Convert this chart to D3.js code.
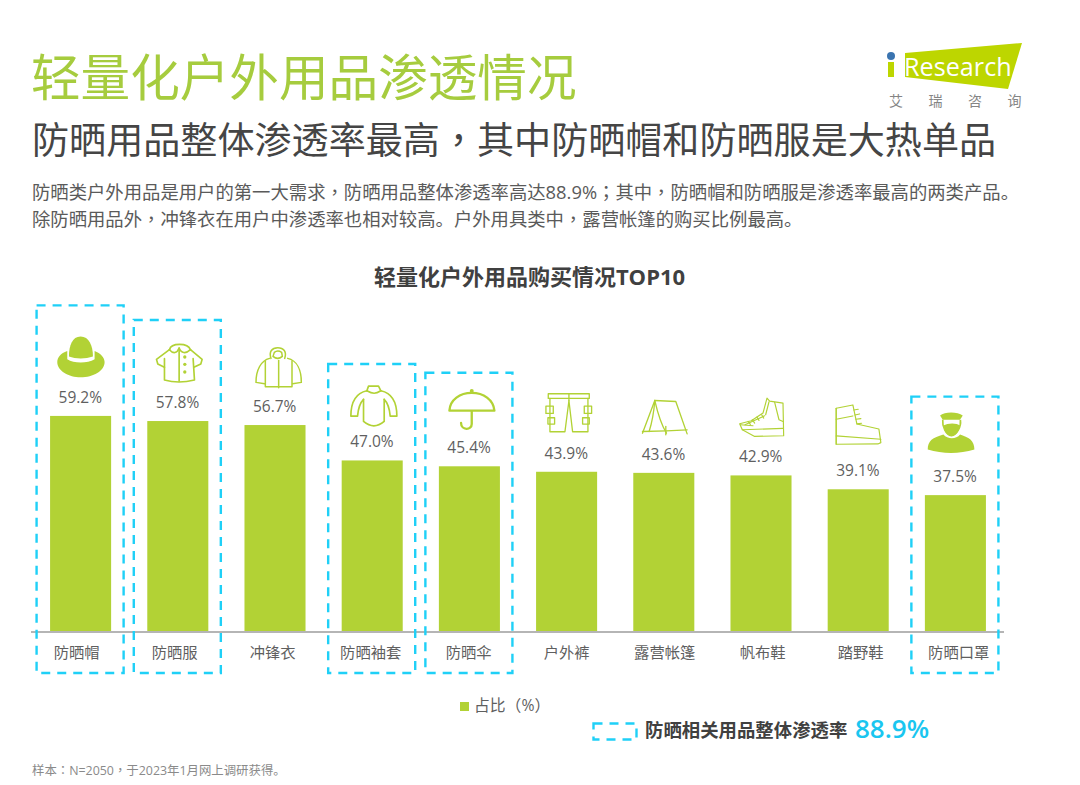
<!DOCTYPE html>
<html><head><meta charset="utf-8">
<script src="https://cdn.jsdelivr.net/npm/d3@7"></script>
<style>
html,body{margin:0;padding:0;background:#fff}
svg{display:block}
text{font-family:"Open Sans","Noto Sans CJK SC",sans-serif}
</style></head><body>
<svg id="c" width="1080" height="785"></svg>
<script>
const categories = ["防晒帽","防晒服","冲锋衣","防晒袖套","防晒伞","户外裤","露营帐篷","帆布鞋","踏野鞋","防晒口罩"];
const values = [59.2,57.8,56.7,47.0,45.4,43.9,43.6,42.9,39.1,37.5];
const highlighted = ["防晒帽","防晒服","防晒袖套","防晒伞","防晒口罩"];
const titleText = "轻量化户外用品渗透情况";
const subtitleText = "防晒用品整体渗透率最高，其中防晒帽和防晒服是大热单品";
const bodyLines = ["防晒类户外用品是用户的第一大需求，防晒用品整体渗透率高达88.9%；其中，防晒帽和防晒服是渗透率最高的两类产品。","除防晒用品外，冲锋衣在用户中渗透率也相对较高。户外用具类中，露营帐篷的购买比例最高。"];
const chartTitle = "轻量化户外用品购买情况TOP10";
const legendLabel = "占比（%）";
const overallLabel = "防晒相关用品整体渗透率";
const overallValue = "88.9%";
const footnote = "样本：N=2050，于2023年1月网上调研获得。";

const GREEN="#b2d235", CYAN="#1fd0f7", TXT="#5f5f5f";
const svg=d3.select("#c");
const x=d3.scaleBand().domain(categories).range([32,1004]).paddingInner(.372).paddingOuter(.186);
const y=d3.scaleLinear().domain([0,100]).range([632,267]);
const labelX=d3.scalePoint().domain(categories).range([76.7,958.7]);

// centred full-width punctuation comes from the TC face
function rich(sel,str){
  str.split(/([，；：])/).filter(s=>s).forEach(s=>{
    const t=sel.append("tspan").text(s);
    if(/^[，；：]$/.test(s)) t.style("font-family",'"Noto Sans CJK TC"');
  });
}

// icons: drawn in 3x crop units; ox,oy = bar-centre / bar-top anchor; rise = dashed box height above bar
const icons={
"防晒帽":{ox:180,oy:360,rise:110.5,sw:0,fill:["M145 182C145 150 155 122 180 122C205 122 217 150 217 182C195 190 165 190 145 182Z","M140 165C120 172 110 185 110 198C110 225 145 244 180 244C218 244 252 225 252 198C252 185 240 172 222 165L222 190C200 203 160 203 140 190Z"]},
"防晒服":{ox:472,oy:377,rise:101,sw:5,stroke:["M432 190L432 254C460 262 490 262 522 254L518 190","M447 163C452 142 502 142 510 163","M447 163C458 176 470 174 476 158C482 174 496 176 510 163","M447 163L408 192L412 206L432 216","M510 163L545 192L541 206L520 216","M476 158L476 258"],fill:["M488 185a5 5 0 1 0 10 0a5 5 0 1 0 -10 0Z","M488 207a5 5 0 1 0 10 0a5 5 0 1 0 -10 0Z","M488 230a5 5 0 1 0 10 0a5 5 0 1 0 -10 0Z"]},
"冲锋衣":{ox:764,oy:390,sw:4.5,stroke:["M752 190C745 170 755 158 772 158C790 158 800 170 793 190","M762 172Q772 164 784 172L786 184Q772 196 758 184Z","M735 198L735 275L815 275L815 198","M775 196L775 278","M748 190C722 196 707 225 707 262L733 266","M802 190C830 196 843 225 843 262L817 266"]},
"防晒袖套":{ox:1056,oy:495,rise:96.5,sw:5,stroke:["M1040 286L1045 272L1075 272L1082 286","M1040 286C1058 296 1066 296 1082 286","M1040 286C1012 292 992 312 992 362L1012 362C1014 340 1020 322 1030 312","M1082 286C1110 292 1130 312 1130 362L1110 362C1108 340 1102 322 1092 312","M1030 312L1030 378C1050 395 1072 395 1092 378L1092 312"]},
"防晒伞":{ox:1348,oy:512,rise:93.5,sw:7,stroke:["M1288 345C1290 312 1320 292 1355 292C1390 292 1420 312 1423 345Z","M1355 347L1355 385C1355 405 1323 405 1323 382"],fill:["M1349 286a5 5 0 1 0 12 0a5 5 0 1 0 -12 0Z"]},
"户外裤":{ox:140,oy:275,sw:4,stroke:["M85 41L208 41L208 55L85 55Z","M90 55L90 155L135 155L147 62L158 155L204 155L204 55","M147 41L147 62","M78 78L100 78L100 100L78 100Z","M193 78L215 78L215 100L193 100Z","M84 113L104 113L104 132L84 132Z","M188 113L208 113L208 132L188 132Z"]},
"露营帐篷":{ox:432,oy:279,sw:4,stroke:["M405 62L468 65L502 162","M405 62L368 160","M405 62C402 100 396 130 388 155","M405 62C415 105 425 135 440 160","M368 155L440 153L502 150","M438 140L438 165"]},
"帆布鞋":{ox:724,oy:287,sw:3.5,stroke:["M742 55L730 100L695 123L660 132L668 150L705 170L792 168L790 70L750 64Z","M668 150L790 146","M662 135L700 138","M676 135L735 108","M685 125L692 134","M698 120L705 130","M712 112L718 122","M726 105L732 115","M748 66L738 105","M765 68L778 120L790 125"]},
"踏野鞋":{ox:1016,oy:328,sw:3.5,stroke:["M950 85L1000 75L1012 132L1078 147L1084 188L1075 192L950 193Z","M950 85L950 193","M950 118L1000 108","M950 168L1084 178","M1003 90L1016 88","M1006 105L1020 102","M1009 118L1024 116","M1012 132L1026 130"]},
"防晒口罩":{ox:1308,oy:345,rise:98.5,sw:0,fill:["M1225 208C1225 182 1240 172 1272 163C1285 178 1310 178 1322 163C1350 172 1365 182 1365 208C1320 222 1270 222 1225 208Z","M1262 106C1275 94 1315 94 1330 106L1322 119L1270 119Z","M1272 136C1285 128 1312 128 1322 136C1318 158 1306 167 1296 167C1286 167 1276 158 1272 136Z"],stroke2:["M1270 119C1268 140 1280 165 1296 167C1312 165 1326 140 1323 119"]}
};

// heading text
svg.append("text").attr("x",31).attr("y",96).attr("font-size",49.6).attr("fill","#a6cc3e").text(titleText);
svg.append("text").attr("x",32).attr("y",154).attr("font-size",37.1).attr("fill","#454545").call(rich,subtitleText);
svg.selectAll("text.body").data(bodyLines).join("text").attr("class","body")
  .attr("x",32).attr("y",(d,i)=>199+i*27).attr("font-size",18.35).attr("fill","#5a5a5a").each(function(d){rich(d3.select(this),d);});

// logo
const logo=svg.append("g");
logo.append("path").attr("d","M905 53L1022 43L1008 89L905 77Z").attr("fill","#bdd600");
logo.append("circle").attr("cx",891).attr("cy",56).attr("r",4).attr("fill","#3a74b0");
logo.append("rect").attr("x",888).attr("y",62).attr("width",6).attr("height",15).attr("fill","#bdd600");
logo.append("text").attr("x",904).attr("y",76).attr("font-size",25.2).attr("font-weight",400).attr("fill","#fff").text("Research");
logo.selectAll("text.lg").data(["艾","瑞","咨","询"]).join("text").attr("class","lg")
  .attr("x",(d,i)=>896+i*39.5).attr("y",106).attr("text-anchor","middle").attr("font-size",14).attr("fill","#858585").text(d=>d);

svg.append("text").attr("x",529.5).attr("y",285).attr("text-anchor","middle").attr("font-size",22).attr("font-weight",700).attr("fill","#404040").text(chartTitle);

const rows=categories.map((c,i)=>({c,v:values[i]}));

// bars
svg.selectAll("rect.bar").data(rows).join("rect").attr("class","bar")
  .attr("x",d=>x(d.c)).attr("width",x.bandwidth()).attr("y",d=>y(d.v)).attr("height",d=>y(0)-y(d.v)).attr("fill",GREEN);

// axis
const ax=svg.append("g").attr("transform",`translate(0,${y(0)})`).call(d3.axisBottom(x).tickSize(0).tickPadding(15));
ax.select(".domain").attr("stroke","#b5b5b5").attr("stroke-width",2).attr("d","M31 0H1004");
ax.selectAll(".tick text").attr("font-size",15.3).attr("fill",TXT).attr("font-family",'"Open Sans","Noto Sans CJK SC",sans-serif')
  .attr("dx",d=>labelX(d)-(x(d)+x.bandwidth()/2));

// value labels
svg.selectAll("text.val").data(rows).join("text").attr("class","val")
  .attr("x",d=>x(d.c)+x.bandwidth()/2-.3).attr("y",d=>y(d.v)-13).attr("text-anchor","middle").attr("font-size",15.5).attr("fill",TXT).text(d=>d.v.toFixed(1)+"%");

// icons
const ig=svg.selectAll("g.icon").data(rows).join("g").attr("class","icon")
  .attr("transform",d=>{const k=icons[d.c];return `translate(${x(d.c)+x.bandwidth()/2},${y(d.v)}) scale(${1/3}) translate(${-k.ox},${-k.oy})`;});
ig.each(function(d){
  const k=icons[d.c],g=d3.select(this);
  (k.stroke||[]).forEach(p=>g.append("path").attr("d",p).attr("fill","none").attr("stroke",GREEN).attr("stroke-width",k.sw).attr("stroke-linejoin","round").attr("stroke-linecap","round"));
  (k.fill||[]).forEach(p=>g.append("path").attr("d",p).attr("fill",GREEN));
  (k.stroke2||[]).forEach(p=>g.append("path").attr("d",p).attr("fill","none").attr("stroke",GREEN).attr("stroke-width",5));
});

// dashed highlight boxes
const boxPad=13.5;
svg.selectAll("rect.box").data(rows.filter(d=>highlighted.includes(d.c))).join("rect").attr("class","box")
  .attr("x",d=>x(d.c)-boxPad).attr("width",x.bandwidth()+2*boxPad-1)
  .attr("y",d=>y(d.v)-icons[d.c].rise).attr("height",d=>673-(y(d.v)-icons[d.c].rise))
  .attr("fill","none").attr("stroke",CYAN).attr("stroke-width",2.4).attr("stroke-dasharray","9 7");

// legend
svg.append("rect").attr("x",460).attr("y",702).attr("width",9).attr("height",9).attr("fill",GREEN);
svg.append("text").attr("x",474).attr("y",711).attr("font-size",15.8).attr("fill",TXT).text(legendLabel);

// overall callout
svg.append("rect").attr("x",593.5).attr("y",723.5).attr("width",43).attr("height",16).attr("fill","none").attr("stroke",CYAN).attr("stroke-width",2.4).attr("stroke-dasharray","9 7");
svg.append("text").attr("x",645).attr("y",737).attr("font-size",18.4).attr("font-weight",700).attr("fill","#404040").text(overallLabel);
svg.append("text").attr("x",855).attr("y",737.5).attr("font-size",26).attr("font-weight",600).attr("fill","#1ac6f0").text(overallValue);

svg.append("text").attr("x",32).attr("y",775).attr("font-size",12.4).attr("fill","#8a8a8a").call(rich,footnote);
</script></body></html>
